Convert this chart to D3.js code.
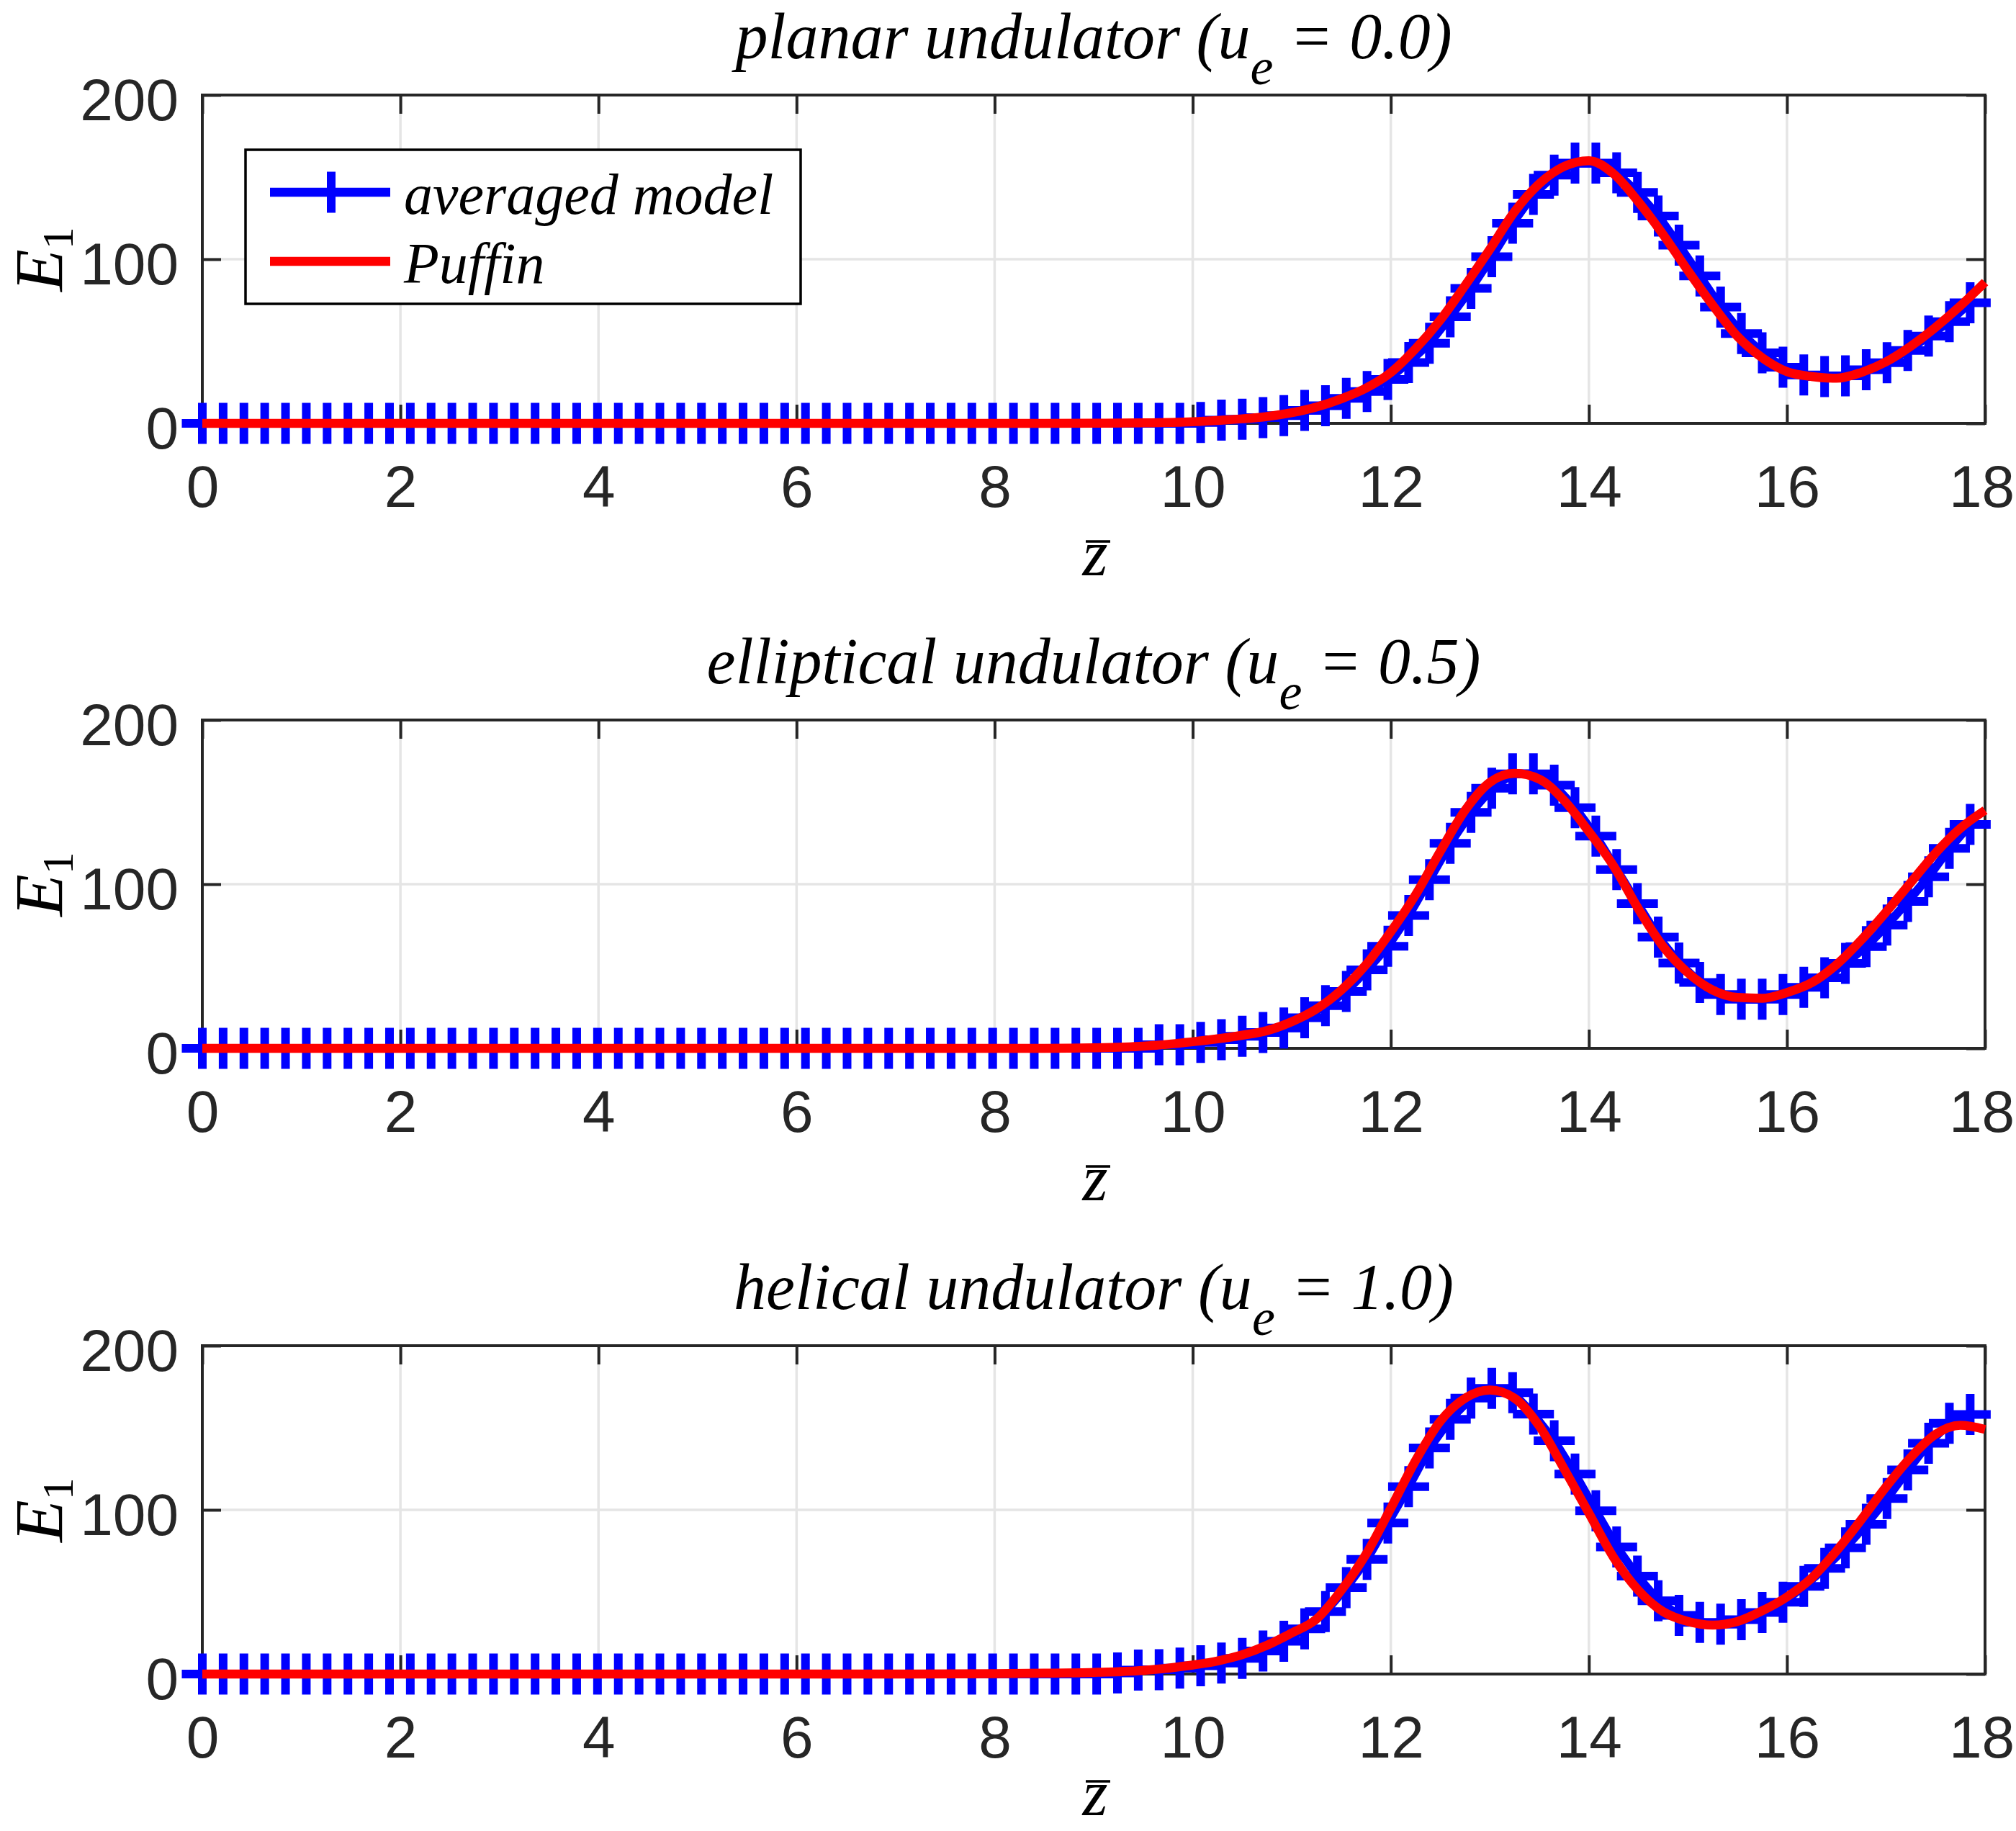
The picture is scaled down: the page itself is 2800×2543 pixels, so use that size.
<!DOCTYPE html>
<html>
<head>
<meta charset="utf-8">
<script src="https://cdn.jsdelivr.net/npm/d3@7"></script>
<style>
  body { margin: 0; background: #fff; }
  svg { display: block; }
  text { white-space: pre; }
</style>
</head>
<body>
<div id="chart"></div>
<script>
// sample positions of the averaged model (markers)
const zBlue = [
    0, 0.21, 0.42, 0.63, 0.84, 1.05, 1.26, 1.47, 1.68, 1.89, 2.1, 2.31,
    2.52, 2.73, 2.94, 3.15, 3.36, 3.57, 3.78, 3.99, 4.2, 4.41, 4.62, 4.83,
    5.04, 5.25, 5.46, 5.67, 5.88, 6.09, 6.3, 6.51, 6.72, 6.93, 7.14, 7.35,
    7.56, 7.77, 7.98, 8.19, 8.4, 8.61, 8.82, 9.03, 9.24, 9.45, 9.66, 9.87,
    10.08, 10.29, 10.5, 10.71, 10.92, 11.13, 11.34, 11.55, 11.76, 11.97, 12.18, 12.39,
    12.6, 12.81, 13.02, 13.23, 13.44, 13.65, 13.86, 14.07, 14.28, 14.49, 14.7, 14.91,
    15.12, 15.33, 15.54, 15.75, 15.96, 16.17, 16.38, 16.59, 16.8, 17.01, 17.22, 17.43,
    17.64, 17.85
];

const blueP1 = [
    0, 0, 0, 0, 0, 0, 0, 0, 0, 0, 0, 0,
    0, 0, 0, 0, 0, 0, 0, 0, 0, 0, 0, 0,
    0, 0, 0, 0, 0, 0, 0, 0, 0, 0, 0, 0,
    0, 0, 0, 0, 0, 0, 0, 0, 0, 0, 0, 0,
    0.5, 2, 2.5, 3.5, 4.7, 7.9, 10.8, 15.2, 19.4, 26.8, 37.1, 48.8,
    64.9, 82.2, 101.5, 121.9, 139.5, 151.2, 158.5, 158.5, 152.6, 140.7, 126.3, 108.5,
    89.8, 70.8, 54.7, 43, 34.2, 29.5, 28.5, 29, 32.7, 36.9, 44.4, 53.2,
    62, 73.5
];

const blueP2 = [
    0, 0, 0, 0, 0, 0, 0, 0, 0, 0, 0, 0,
    0, 0, 0, 0, 0, 0, 0, 0, 0, 0, 0, 0,
    0, 0, 0, 0, 0, 0, 0, 0, 0, 0, 0, 0,
    0, 0, 0, 0, 0, 0, 0, 0, 0, 0, 2.2, 2.2,
    3.6, 5.3, 7.3, 9.6, 12.4, 18.6, 26, 34.7, 47.8, 62.2, 80.9, 102.7,
    124.9, 143.8, 158.4, 167.2, 167.2, 160.3, 146.6, 129.3, 108.9, 88.2, 67.8, 52,
    40.1, 32.8, 29.9, 29.9, 32.8, 37.2, 43, 51.8, 61.9, 75.1, 89.5, 104.5,
    121.8, 136.4
];

const blueP3 = [
    0, 0, 0, 0, 0, 0, 0, 0, 0, 0, 0, 0,
    0, 0, 0, 0, 0, 0, 0, 0, 0, 0, 0, 0,
    0, 0, 0, 0, 0, 0, 0, 0, 0, 0, 0, 0,
    0, 0, 0, 0, 0, 0, 0, 0, 0.7, 2.4, 2.6, 3.6,
    5, 6.7, 9.5, 14, 20, 27.5, 38, 52.6, 69.9, 92, 114.1, 137.7,
    155.2, 168.1, 174, 171.4, 158.3, 142.1, 121.8, 99.4, 77.4, 59.6, 44.6, 35.7,
    31.5, 30.4, 33.1, 37.5, 43.7, 53.4, 64.4, 76.9, 91.2, 106.9, 124.3, 140.6,
    152.7, 158.1
];

// Puffin reference curve
const zRed = [
    0, 1, 2, 3, 4, 5, 6, 7, 8, 8.5, 9, 9.5,
    10, 10.25, 10.5, 10.75, 11, 11.25, 11.5, 11.75, 12, 12.25, 12.5, 12.75,
    13, 13.25, 13.5, 13.75, 14, 14.25, 14.5, 14.75, 15, 15.25, 15.5, 15.75,
    16, 16.25, 16.5, 16.75, 17, 17.25, 17.5, 17.75, 18
];

const redP1 = [
    0, 0, 0, 0, 0, 0, 0, 0, 0, 0, 0.1, 0.3,
    1, 1.8, 2.8, 4.2, 6.5, 10, 15, 21.5, 31, 45.5, 63, 84,
    106, 129, 146, 156.5, 160, 152, 135, 115, 93, 72, 53, 40,
    31.5, 28.5, 27.5, 31, 37.5, 47, 58.5, 71.5, 86
];

const redP2 = [
    0, 0, 0, 0, 0, 0, 0, 0, 0, 0, 0.3, 1.3,
    4, 5.8, 8, 10.8, 16.2, 24, 35.5, 51, 71, 93.5, 120, 145,
    162, 167.5, 164, 151, 132, 111, 85, 62, 46, 35.5, 31, 30.5,
    34, 40, 51, 66, 83, 101, 119, 134, 145
];

const redP3 = [
    0, 0, 0, 0, 0, 0, 0, 0, 0.2, 0.5, 1, 2.2,
    5.5, 8, 11.8, 17.5, 25, 33.5, 51, 73, 101, 130, 154, 168,
    173, 168, 151, 125, 98, 71, 51, 38, 32, 29.8, 32, 38.5,
    47, 58.5, 75, 94, 114, 132, 146, 151.5, 149
];

const xTicks = [0, 2, 4, 6, 8, 10, 12, 14, 16, 18];
const yTicks = [0, 100, 200];
const titleNames = ['planar undulator', 'elliptical undulator', 'helical undulator'];
const ueLabels = ['0.0', '0.5', '1.0'];
const legendLabels = ['averaged model', 'Puffin'];

const panels = [
    {name: titleNames[0], ue: ueLabels[0], blue: blueP1, red: redP1},
    {name: titleNames[1], ue: ueLabels[1], blue: blueP2, red: redP2},
    {name: titleNames[2], ue: ueLabels[2], blue: blueP3, red: redP3}
];

const W = 2800, H = 2543;
const left = 281, plotW = 2476, plotH = 456;
const panelTops = [132, 1000, 1869];
const axisColor = '#262626';
const gridColor = '#e5e5e5';
const blue = '#0000ff', red = '#ff0000';
const sans = "'Liberation Sans', Arial, Helvetica, sans-serif";
const serif = "'Liberation Serif', 'Times New Roman', Times, serif";

const svg = d3.select('#chart').append('svg')
    .attr('width', W)
    .attr('height', H)
    .attr('viewBox', `0 0 ${W} ${H}`);

const x = d3.scaleLinear().domain([0, 18]).range([0, plotW]);
const y = d3.scaleLinear().domain([0, 200]).range([plotH, 0]);

const plusPath = (cx, cy, s) => `M${cx - s / 2},${cy}h${s}M${cx},${cy - s / 2}v${s}`;

function styleTicks(a) {
    a.select('.domain').remove();
    a.selectAll('line').attr('stroke', axisColor).attr('stroke-width', 4);
}

function drawPanel(p, top, withLegend) {
    const g = svg.append('g').attr('transform', `translate(${left},${top})`);

    // grid
    g.append('g').selectAll('line').data(xTicks).join('line')
        .attr('x1', d => x(d)).attr('x2', d => x(d))
        .attr('y1', 0).attr('y2', plotH)
        .attr('stroke', gridColor).attr('stroke-width', 3.5);
    g.append('g').selectAll('line').data(yTicks).join('line')
        .attr('x1', 0).attr('x2', plotW)
        .attr('y1', d => y(d)).attr('y2', d => y(d))
        .attr('stroke', gridColor).attr('stroke-width', 3.5);

    // inward ticks on all four sides
    g.append('g').attr('transform', `translate(0,${plotH})`)
        .call(d3.axisTop(x).tickValues(xTicks).tickSize(26).tickFormat(''))
        .call(styleTicks);
    g.append('g')
        .call(d3.axisBottom(x).tickValues(xTicks).tickSize(26).tickFormat(''))
        .call(styleTicks);
    g.append('g')
        .call(d3.axisRight(y).tickValues(yTicks).tickSize(26).tickFormat(''))
        .call(styleTicks);
    g.append('g').attr('transform', `translate(${plotW},0)`)
        .call(d3.axisLeft(y).tickValues(yTicks).tickSize(26).tickFormat(''))
        .call(styleTicks);

    // tick labels
    g.append('g').attr('transform', `translate(0,${plotH})`)
        .call(d3.axisBottom(x).tickValues(xTicks).tickSize(0).tickFormat(d3.format('d')))
        .call(a => {
            a.select('.domain').remove();
            a.selectAll('text')
                .attr('y', 116).attr('dy', null)
                .attr('dx', d => d === 18 ? -5 : null)
                .attr('fill', axisColor)
                .attr('font-size', 82)
                .attr('font-family', sans);
        });
    g.append('g')
        .call(d3.axisLeft(y).tickValues(yTicks).tickSize(0).tickFormat(d3.format('d')))
        .call(a => {
            a.select('.domain').remove();
            a.selectAll('text')
                .attr('x', -33).attr('y', 34).attr('dy', null)
                .attr('fill', axisColor)
                .attr('font-size', 82)
                .attr('font-family', sans);
        });

    // box
    g.append('rect')
        .attr('width', plotW).attr('height', plotH)
        .attr('fill', 'none')
        .attr('stroke', axisColor).attr('stroke-width', 4);

    // averaged model: line + markers
    const blueData = zBlue.map((z, i) => ({z, e: p.blue[i]}));
    g.append('path')
        .datum(blueData)
        .attr('fill', 'none')
        .attr('stroke', blue)
        .attr('stroke-width', 12)
        .attr('stroke-linejoin', 'round')
        .attr('d', d3.line().x(d => x(d.z)).y(d => y(d.e)));
    g.append('g').selectAll('path').data(blueData).join('path')
        .attr('d', d => plusPath(x(d.z), y(d.e), 57))
        .attr('fill', 'none')
        .attr('stroke', blue)
        .attr('stroke-width', 12);

    // Puffin
    const redData = zRed.map((z, i) => ({z, e: p.red[i]}));
    g.append('path')
        .datum(redData)
        .attr('fill', 'none')
        .attr('stroke', red)
        .attr('stroke-width', 12.5)
        .attr('stroke-linejoin', 'round')
        .attr('d', d3.line().curve(d3.curveMonotoneX).x(d => x(d.z)).y(d => y(d.e)));

    // title
    const t = svg.append('text')
        .attr('x', left + plotW / 2)
        .attr('y', top - 51)
        .attr('text-anchor', 'middle')
        .attr('font-family', serif)
        .attr('font-style', 'italic')
        .attr('font-size', 90)
        .attr('fill', '#000');
    t.append('tspan').text(`${p.name} (u`);
    t.append('tspan').attr('dy', 36).attr('font-size', 72).text('e');
    t.append('tspan').attr('dy', -36).text(` = ${p.ue})`);

    // y label
    const yl = svg.append('text')
        .attr('transform', `translate(87,${top + plotH / 2}) rotate(-90)`)
        .attr('text-anchor', 'middle')
        .attr('font-family', serif)
        .attr('fill', '#000');
    yl.append('tspan').attr('font-style', 'italic').attr('font-size', 96).text('E');
    yl.append('tspan').attr('font-size', 62).attr('dy', 14).text('1');

    // x label (z with overbar)
    const xc = left + plotW / 2 + 2;
    const zBase = Math.min(top + plotH + 211, H - 22);
    svg.append('text')
        .attr('x', xc)
        .attr('y', zBase)
        .attr('text-anchor', 'middle')
        .attr('font-family', serif)
        .attr('font-style', 'italic')
        .attr('font-size', 90)
        .attr('fill', '#000')
        .text('z');
    svg.append('line')
        .attr('x1', xc - 13).attr('x2', xc + 21)
        .attr('y1', zBase - 47).attr('y2', zBase - 47)
        .attr('stroke', '#000').attr('stroke-width', 3.5);

    if (withLegend) {
        const lg = g.append('g').attr('transform', 'translate(60,76)');
        lg.append('rect')
            .attr('width', 771).attr('height', 214)
            .attr('fill', '#fff')
            .attr('stroke', '#000').attr('stroke-width', 3.5);
        const rows = [
            {label: legendLabels[0], color: blue, marker: true, y: 59},
            {label: legendLabels[1], color: red, marker: false, y: 155}
        ];
        const row = lg.selectAll('g.row').data(rows).join('g')
            .attr('class', 'row')
            .attr('transform', d => `translate(0,${d.y})`);
        row.append('line')
            .attr('x1', 34).attr('x2', 201)
            .attr('stroke', d => d.color)
            .attr('stroke-width', 12.5);
        row.filter(d => d.marker).append('path')
            .attr('d', plusPath(119, 0, 57))
            .attr('fill', 'none')
            .attr('stroke', blue)
            .attr('stroke-width', 12);
        row.append('text')
            .attr('x', 220).attr('y', 30)
            .attr('font-family', serif)
            .attr('font-style', 'italic')
            .attr('font-size', 80)
            .attr('fill', '#000')
            .text(d => d.label);
    }
}

panels.forEach((p, i) => drawPanel(p, panelTops[i], i === 0));
</script>
</body>
</html>
